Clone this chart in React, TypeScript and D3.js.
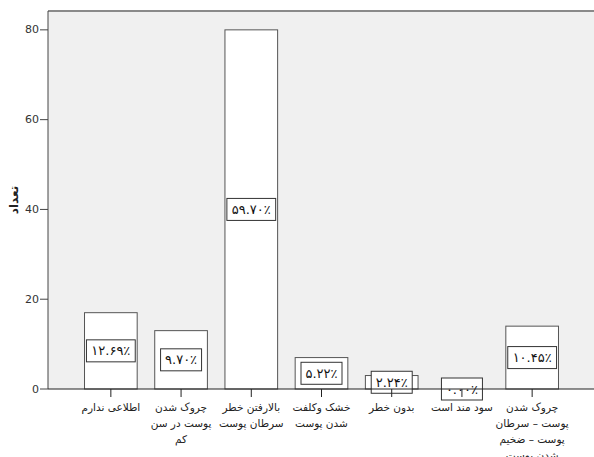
import React from 'react';
import * as d3 from 'd3';

// category labels (already split into the wrapped lines shown under each bar)
const categories = [
  ['اطلاعی ندارم'],
  ['چروک شدن', 'پوست در سن', 'کم'],
  ['بالارفتن خطر', 'سرطان پوست'],
  ['خشک وکلفت', 'شدن پوست'],
  ['بدون خطر'],
  ['سود مند است'],
  ['چروک شدن', 'پوست – سرطان', 'پوست – ضخیم', 'شدن پوست'],
];
const counts = [17, 13, 80, 7, 3, 0, 14];
const percentLabels = ['۱۲.۶۹٪', '۹.۷۰٪', '۵۹.۷۰٪', '۵.۲۲٪', '۲.۲۴٪', '۰.۰۰٪', '۱۰.۴۵٪'];
const yTicks = [0, 20, 40, 60, 80];

const W = 594;
const H = 457;
const left = 48;
const right = 595;
const top = 11;
const bottom = 389;

const font = '"DejaVu Sans", sans-serif';

export default function App() {
  const x = d3.scaleBand<number>()
    .domain(d3.range(counts.length))
    .range([left, right])
    .paddingInner(0.25)
    .paddingOuter(0.52);

  const y = d3.scaleLinear().domain([0, 84.2]).range([bottom, top]);

  return (
    <svg width={W} height={H} style={{ position: 'absolute', left: 0, top: 0 }}>
      <rect x={0} y={0} width={W} height={H} fill="#fff" />
      {/* plot background */}
      <rect x={left} y={top} width={right - left} height={bottom - top} fill="#f0f0f0" />
      <line x1={left} x2={W} y1={top} y2={top} stroke="#8a8a8a" strokeWidth={2} />

      {/* bars */}
      {counts.map((c, i) => (
        <rect key={i}
          x={x(i)} y={y(c)} width={x.bandwidth()} height={bottom - y(c)}
          fill="#fff" stroke="#555" strokeWidth={1} />
      ))}

      {/* percent labels */}
      {counts.map((c, i) => {
        const cx = (x(i) as number) + x.bandwidth() / 2;
        const cy = y(c / 2);
        const w = percentLabels[i].length * 7.8 + 2;
        return (
          <g key={i}>
            <rect x={cx - w / 2} y={cy - 11} width={w} height={22}
              fill="#fff" stroke="#333" strokeWidth={1} />
            <text x={cx} y={cy} textAnchor="middle" dominantBaseline="central"
              fontFamily={font} fontSize={13} fill="#111" direction="ltr">
              {percentLabels[i]}
            </text>
          </g>
        );
      })}

      {/* y axis */}
      <line x1={left} x2={left} y1={top} y2={bottom} stroke="#444" strokeWidth={1} />
      {yTicks.map(t => (
        <g key={t}>
          <line x1={left - 8} x2={left} y1={y(t)} y2={y(t)} stroke="#444" />
          <text x={left - 9} y={y(t)} textAnchor="end" dominantBaseline="central"
            fontFamily={font} fontSize={11} fill="#333">{t}</text>
        </g>
      ))}
      <text transform={`translate(14,${(top + bottom) / 2}) rotate(-90)`}
        textAnchor="middle" dominantBaseline="central" fontFamily={font}
        fontSize={12} fontWeight="bold" fill="#222">تعداد</text>

      {/* x axis */}
      <line x1={left} x2={W} y1={bottom} y2={bottom} stroke="#222" strokeWidth={1.2} />
      {categories.map((lines, i) => {
        const cx = (x(i) as number) + x.bandwidth() / 2;
        return (
          <g key={i}>
            <line x1={cx} x2={cx} y1={bottom} y2={bottom + 8} stroke="#222" />
            {lines.map((ln, j) => (
              <text key={j} x={cx} y={bottom + 18 + j * 16} textAnchor="middle"
                dominantBaseline="central" direction="rtl" fontFamily={font}
                fontSize={10.5} fill="#222">{ln}</text>
            ))}
          </g>
        );
      })}
    </svg>
  );
}
